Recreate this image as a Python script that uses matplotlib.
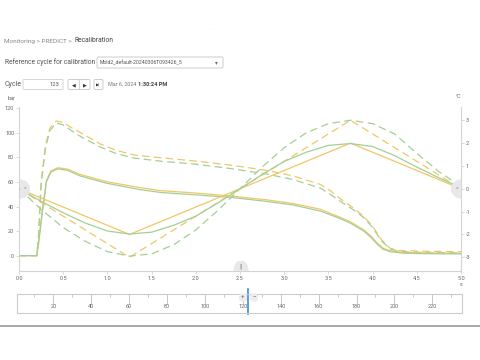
import matplotlib
matplotlib.use("Agg")
import matplotlib.pyplot as plt
from matplotlib.patches import FancyBboxPatch, Polygon

plt.rcParams['font.family'] = ['Roboto', 'DejaVu Sans']

# ---------------- data ----------------
# pressure curves (left axis, bar)
t_press = [0, 0.2, 0.22, 0.26, 0.31, 0.36, 0.44, 0.55, 0.69, 0.99, 1.37, 1.6, 2.0, 2.39,
           2.8, 3.1, 3.41, 3.52, 3.64, 3.75, 3.9, 3.98, 4.05, 4.12, 4.2, 4.35, 4.6, 5.0]
press_yellow = [0, 0, 10, 35, 61, 69, 71.6, 70.5, 66.2, 60.3, 55.4, 53, 51, 48.6,
                45.5, 42.5, 37.8, 34.5, 31, 27.5, 21, 16, 10.5, 6, 4, 2.6, 2.2, 2.0]
press_green = [0, 0, 9, 33, 60, 68, 70.8, 69.5, 65, 59, 53.8, 51.5, 49.5, 47.5,
               44.2, 41.3, 36.3, 33.3, 30, 26.5, 20, 15, 9.5, 5.2, 3.2, 2.0, 1.6, 1.4]

t_press_d = [0, 0.2, 0.22, 0.25, 0.3, 0.35, 0.42, 0.5, 0.6, 0.71, 0.92, 1.09, 1.3, 1.6,
             2.0, 2.39, 2.8, 3.1, 3.41, 3.52, 3.64, 3.78, 3.9, 4.0, 4.1, 4.2, 4.3, 4.6, 5.0]
press_yellow_d = [0, 0, 15, 60, 90, 104, 109.7, 108.5, 104, 99.6, 91, 86, 82, 79.8,
                  77, 73.8, 69.5, 65, 58, 53, 46, 39, 32, 24, 13, 6, 4.2, 3.6, 3.2]
press_green_d = [0, 0, 14, 58, 88, 102, 108, 106.5, 101.5, 96.5, 88.5, 83.4, 79.5, 77,
                 74.5, 71, 66.5, 62, 55, 50, 44, 37.5, 31, 23, 12, 5.5, 3.4, 2.6, 2.3]

# temperature curves (right axis, °C)
t_temp_y = [0, 1.25, 3.75, 5.0]
temp_yellow = [0, -2, 2, 0]
temp_yellow_d = [0, -3, 3, 0]

t_temp_g = [0, 0.25, 0.5, 0.75, 1.0, 1.25, 1.5, 1.75, 2.0, 2.25, 2.5, 2.75, 3.0,
            3.25, 3.5, 3.75, 4.0, 4.25, 4.5, 4.75, 5.0]
temp_green = [0, -0.55, -1.05, -1.5, -1.85, -1.98, -1.9, -1.6, -1.2, -0.62, 0.0,
              0.62, 1.2, 1.6, 1.9, 1.98, 1.85, 1.45, 0.95, 0.48, 0.05]
temp_green_d = [0, -0.9, -1.7, -2.3, -2.75, -2.95, -2.85, -2.45, -1.8, -0.95, 0.0,
                0.95, 1.8, 2.45, 2.85, 3.0, 2.85, 2.4, 1.55, 0.75, 0.1]

bar_ticks = [0, 20, 40, 60, 80, 100, 120]
temp_ticks = [-3, -2, -1, 0, 1, 2, 3]
time_ticks = [0.0, 0.5, 1.0, 1.5, 2.0, 2.5, 3.0, 3.5, 4.0, 4.5, 5.0]
cycle_ticks = [20, 40, 60, 80, 100, 120, 140, 160, 180, 200, 220]
cycle_minor = [10, 30, 50, 70, 90, 110, 130, 150, 170, 190, 210, 230]
current_cycle = 123

YEL = '#F1C765'
GRN = '#A3CF97'
AX = '#d4d4d4'
TXT = '#666666'

W, H = 480, 360
fig = plt.figure(figsize=(4.8, 3.6), dpi=100)
fig.patch.set_facecolor('white')

def fr(x0, y0, x1, y1):
    return [x0 / W, 1 - y1 / H, (x1 - x0) / W, (y1 - y0) / H]

# ---------------- main chart ----------------
ax = fig.add_axes(fr(19, 107, 461, 271))
ax.set_xlim(0, 5)
ax.set_ylim(-12.5, 121.1)
ax2 = ax.twinx()
ax2.set_ylim(-3.6, 3.58)

dash = (0, (6, 3.5))
ax.plot(t_press_d, press_yellow_d, color=YEL, lw=0.9, ls=dash)
ax.plot(t_press_d, press_green_d, color=GRN, lw=0.9, ls=dash)
ax.plot(t_press, press_yellow, color=YEL, lw=0.9)
ax.plot(t_press, press_green, color=GRN, lw=0.9)
ax2.plot(t_temp_y, temp_yellow_d, color=YEL, lw=0.9, ls=dash)
ax2.plot(t_temp_g, temp_green_d, color=GRN, lw=0.9, ls=dash)
ax2.plot(t_temp_y, temp_yellow, color=YEL, lw=0.9)
ax2.plot(t_temp_g, temp_green, color=GRN, lw=0.9)

for a in (ax, ax2):
    for s in a.spines.values():
        s.set_visible(False)
    a.patch.set_visible(False)
for s in (ax.spines['left'], ax.spines['bottom'], ax2.spines['right']):
    s.set_visible(True)
    s.set_color(AX)
    s.set_linewidth(0.8)

ax.set_yticks(bar_ticks)
ax.set_yticklabels([str(v) for v in bar_ticks])
ax2.set_yticks(temp_ticks)
ax2.set_yticklabels([str(v) for v in temp_ticks])
ax.set_xticks(time_ticks)
ax.set_xticklabels([f"{v:.1f}" for v in time_ticks])
ax.tick_params(axis='both', colors=AX, labelcolor=TXT, labelsize=4, length=2, width=0.6, pad=1.5)
ax2.tick_params(axis='y', colors=AX, labelcolor=TXT, labelsize=4, length=2, width=0.6, pad=1.5)

# ---------------- cycle slider ----------------
sl = fig.add_axes(fr(16.7, 294, 461.7, 313))
sl.set_xlim(0.7, 235.5)
sl.set_ylim(0, 1)
sl.set_yticks([])
for s in sl.spines.values():
    s.set_color('#cccccc')
    s.set_linewidth(0.8)
sl.set_xticks(cycle_ticks)
sl.set_xticklabels([str(v) for v in cycle_ticks])
sl.set_xticks(cycle_minor, minor=True)
sl.tick_params(axis='x', which='major', top=True, bottom=False, direction='in',
               length=7, width=0.6, colors='#bbbbbb', labelcolor=TXT, labelsize=4,
               pad=-6.5)
sl.tick_params(axis='x', which='minor', top=True, bottom=False, direction='in',
               length=2.5, width=0.6, colors='#bbbbbb')
sl.axvline(current_cycle, color='#3d8fd6', lw=1.2, ymin=-0.05, ymax=1.25, clip_on=False)

# ---------------- overlay (UI decorations) ----------------
ov = fig.add_axes([0, 0, 1, 1])
ov.set_xlim(0, W)
ov.set_ylim(H, 0)
ov.axis('off')
ov.patch.set_visible(False)

crumb = ov.text(4, 41, "Monitoring > PREDICT >", fontsize=4.6, color='#888888', va='center')
ov.annotate("Recalibration", xy=(1, 0.5), xycoords=crumb, xytext=(1.8, 0),
            textcoords='offset points', fontsize=4.9, color='#444444', va='center')

ov.text(5, 62, "Reference cycle for calibration", fontsize=4.85, color='#555555', va='center')
ov.add_patch(FancyBboxPatch((97, 57), 126, 11, boxstyle="round,pad=0,rounding_size=1.5",
                            fc='white', ec='#cccccc', lw=0.7))
ov.text(100, 62.5, "Mold2_default-20240306T093426_5", fontsize=3.7, color='#555555', va='center')
ov.text(216, 62.5, "\u25BE", fontsize=4, color='#666666', va='center', ha='center', family='DejaVu Sans')

ov.text(5, 84.5, "Cycle", fontsize=5.0, color='#555555', va='center')
ov.add_patch(FancyBboxPatch((23, 79.5), 40, 10, boxstyle="round,pad=0,rounding_size=1",
                            fc='white', ec='#d5d5d5', lw=0.7))
ov.text(59, 84.5, "123", fontsize=4.2, color='#555555', va='center', ha='right')
ov.add_patch(FancyBboxPatch((68, 79.5), 22, 10, boxstyle="round,pad=0,rounding_size=1.5",
                            fc='white', ec='#cccccc', lw=0.7))
ov.plot([79, 79], [80, 89], color='#cccccc', lw=0.6)
ov.text(73.5, 84.5, "\u25C0", fontsize=3.5, color='#333333', va='center', ha='center', family='DejaVu Sans')
ov.text(84.5, 84.5, "\u25B6", fontsize=3.5, color='#333333', va='center', ha='center', family='DejaVu Sans')
ov.add_patch(FancyBboxPatch((94, 79.5), 9, 10, boxstyle="round,pad=0,rounding_size=1.5",
                            fc='white', ec='#cccccc', lw=0.7))
ov.text(98.5, 84.5, "\u25B6|", fontsize=3.0, color='#333333', va='center', ha='center', family='DejaVu Sans')
date = ov.text(108, 84.5, "Mar 6, 2024", fontsize=3.9, color='#777777', va='center')
ov.annotate("1:30:24 PM", xy=(1, 0.5), xycoords=date, xytext=(1.5, 0),
            textcoords='offset points', fontsize=4.1, color='#444444', va='center', weight='bold')

ov.text(8, 98, "bar", fontsize=4, color=TXT, va='center')
ov.text(458, 97, "\u00B0C", fontsize=4, color=TXT, va='center', ha='center')
ov.text(461.5, 284, "s", fontsize=3.8, color=TXT, va='center', ha='center')
ov.text(210, 30, "-", fontsize=3, color='#bbbbbb', va='center', ha='center')

# handles
ov.add_patch(Polygon([[20, 179], [26, 181], [30, 186], [30, 192], [26, 197], [20, 199]],
                     closed=True, fc='#e8e8e8', ec='none'))
ov.text(24.5, 189, "=", fontsize=3.5, color='#888888', va='center', ha='center')
ov.add_patch(Polygon([[461, 179], [455, 181], [451, 186], [451, 192], [455, 197], [461, 199]],
                     closed=True, fc='#e8e8e8', ec='none'))
ov.text(456.5, 189, "=", fontsize=3.5, color='#888888', va='center', ha='center')
ov.add_patch(Polygon([[233, 271], [235, 264], [238, 261], [244, 261], [247, 264], [249, 271]],
                     closed=True, fc='#e8e8e8', ec='none'))
ov.text(241, 266, "\u2016", fontsize=3.5, color='#888888', va='center', ha='center', family='DejaVu Sans')

# slider +/- buttons
ov.add_patch(FancyBboxPatch((239, 293.5), 8, 8, boxstyle="round,pad=0,rounding_size=3",
                            fc='#ececec', ec='none'))
ov.add_patch(FancyBboxPatch((250, 293.5), 8, 8, boxstyle="round,pad=0,rounding_size=3",
                            fc='#ececec', ec='none'))
ov.text(243, 297.5, "+", fontsize=4.5, color='#777777', va='center', ha='center')
ov.text(254, 297.5, "\u2212", fontsize=4.5, color='#777777', va='center', ha='center')

# bottom separator
ov.plot([0, 480], [326, 326], color='#9a9a9a', lw=1.2)

fig.savefig("out.png", dpi=100, facecolor='white')
